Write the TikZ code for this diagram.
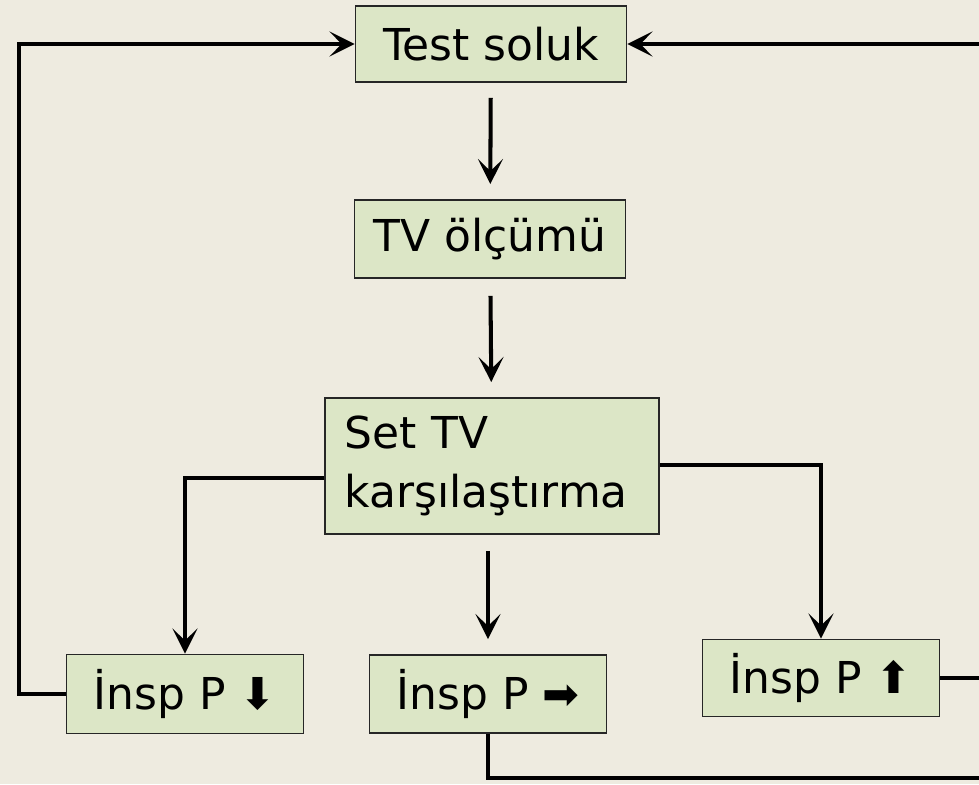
\documentclass[tikz,border=0pt]{standalone}
\usepackage{fontspec}
\setmainfont{DejaVu Sans}
\usetikzlibrary{arrows.meta,positioning}

\definecolor{zemin}{HTML}{EEEBE0}
\definecolor{kutu}{HTML}{DCE6C6}

\begin{document}
\begin{tikzpicture}[
    blok/.style={rectangle, draw=black!85, line width=1.1pt, fill=kutu, inner sep=0pt, font=\fontsize{25}{34}\selectfont},
    ok/.style={line width=2.3pt, -{Stealth[length=0.5cm, width=0.5cm, inset=0.24cm]}},
    hat/.style={line width=2.3pt}
  ]
    \fill[zemin] (0,0) rectangle (19.58,-15.68);
    \useasboundingbox (0,0) rectangle (19.58,-15.68);
    \clip (0,0) rectangle (19.58,-15.68);

    \node[blok, minimum width=5.42cm, minimum height=1.52cm] (test) at (9.82,-0.88) {Test soluk};
    \node[blok, minimum width=5.42cm, minimum height=1.56cm] (tv) at (9.80,-4.78) {TV ölçümü};
    \node[blok, minimum width=6.68cm, minimum height=2.72cm, text width=5.9cm, align=left] (set) at (9.84,-9.32) {Set TV\\karşılaştırma};
    \node[blok, minimum width=4.74cm, minimum height=1.58cm] (dusuk) at (3.70,-13.88) {İnsp P ⬇};
    \node[blok, minimum width=4.74cm, minimum height=1.56cm] (sabit) at (9.76,-13.88) {İnsp P ➡};
    \node[blok, minimum width=4.74cm, minimum height=1.54cm] (yuksek) at (16.42,-13.56) {İnsp P ⬆};

    % kenar disina giden uclar
    \coordinate (sagust) at (19.9,-0.88);
    \coordinate (sagalt) at (19.9,-15.56);

    \draw[ok, shorten <=0.3cm, shorten >=0.3cm] (test) -- (tv);
    \draw[ok, shorten <=0.34cm, shorten >=0.3cm] (tv) -- (set);
    \draw[ok, shorten <=0.32cm, shorten >=0.3cm] (set.south -| sabit.north) -- (sabit);
    \draw[ok] ([yshift=-0.24cm]set.west) -| (dusuk.north);
    \draw[ok] ([yshift=0.02cm]set.east) -| (yuksek.north);
    \draw[ok] (dusuk.west) -- ++(-0.94,0) |- (test.west);
    \draw[ok] (sagust) -- (test.east);
    \draw[hat] (yuksek.east) -- (yuksek.east -| sagust);
    \draw[hat] (sabit.south) |- (sagalt);
\end{tikzpicture}
\end{document}
